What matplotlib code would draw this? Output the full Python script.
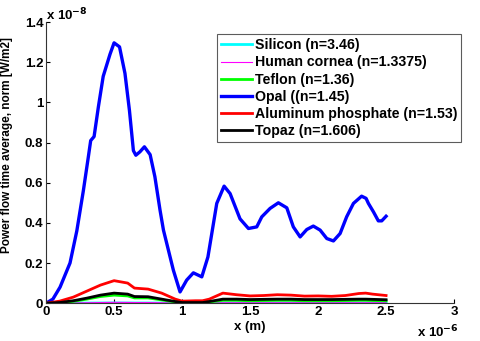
import numpy as np
import matplotlib.pyplot as plt
from matplotlib.ticker import FormatStrFormatter

plt.rcParams['font.family'] = ['Liberation Sans', 'DejaVu Sans']
plt.rcParams['font.weight'] = 'bold'

# --- data (x in units of 1e-6 m, y in units of 1e-8 W/m2) ---
x_opal = [0.0, 0.05, 0.103, 0.176, 0.226, 0.274, 0.311, 0.328, 0.353, 0.385, 0.42, 0.47,
          0.5, 0.54, 0.58, 0.613, 0.642, 0.66, 0.69, 0.723, 0.765, 0.80, 0.838, 0.863,
          0.936, 0.985, 1.034, 1.083, 1.145, 1.19, 1.255, 1.309, 1.353, 1.426, 1.488,
          1.549, 1.586, 1.647, 1.708, 1.77, 1.818, 1.868, 1.917, 1.965, 2.015, 2.064,
          2.113, 2.162, 2.21, 2.26, 2.32, 2.353, 2.37, 2.407, 2.443, 2.468, 2.5]
y_opal = [0.0, 0.02, 0.08, 0.2, 0.36, 0.56, 0.73, 0.81, 0.83, 0.98, 1.13, 1.24,
          1.297, 1.277, 1.145, 0.96, 0.76, 0.737, 0.754, 0.779, 0.74, 0.63, 0.463, 0.364,
          0.164, 0.056, 0.115, 0.151, 0.131, 0.23, 0.497, 0.583, 0.546, 0.42, 0.372,
          0.38, 0.43, 0.472, 0.50, 0.475, 0.38, 0.33, 0.367, 0.384, 0.364, 0.322,
          0.31, 0.347, 0.43, 0.497, 0.533, 0.522, 0.497, 0.455, 0.41, 0.41, 0.433]

x_small = [0.0, 0.1, 0.2, 0.3, 0.4, 0.5, 0.6, 0.65, 0.75, 0.85, 0.95, 1.0, 1.1, 1.15,
           1.2, 1.3, 1.4, 1.5, 1.6, 1.7, 1.8, 1.9, 2.0, 2.1, 2.2, 2.3, 2.35, 2.4, 2.5]
y_alpo4 = [0.0, 0.01, 0.03, 0.06, 0.09, 0.112, 0.1, 0.075, 0.07, 0.05, 0.02, 0.01, 0.012,
           0.012, 0.02, 0.05, 0.042, 0.036, 0.038, 0.042, 0.04, 0.035, 0.036, 0.034,
           0.038, 0.048, 0.05, 0.045, 0.038]
y_topaz = [0.0, 0.003, 0.012, 0.025, 0.04, 0.05, 0.045, 0.033, 0.032, 0.02, 0.008, 0.003,
           0.003, 0.003, 0.008, 0.02, 0.02, 0.018, 0.019, 0.02, 0.02, 0.018, 0.018, 0.018,
           0.019, 0.02, 0.02, 0.019, 0.017]
y_teflon = [0.0, 0.002, 0.009, 0.02, 0.033, 0.04, 0.036, 0.026, 0.026, 0.016, 0.006, 0.002,
            0.002, 0.002, 0.006, 0.014, 0.014, 0.012, 0.013, 0.014, 0.014, 0.012, 0.012,
            0.012, 0.013, 0.014, 0.014, 0.013, 0.012]
y_cornea = [0.0, 0.0005, 0.001, 0.002, 0.003, 0.004, 0.0035, 0.003, 0.003, 0.002, 0.001,
            0.0005, 0.0005, 0.0005, 0.001, 0.002, 0.002, 0.002, 0.002, 0.002, 0.002, 0.002,
            0.002, 0.002, 0.002, 0.002, 0.002, 0.002, 0.002]
y_silicon = [0.0, 0.0002, 0.0004, 0.0006, 0.0008, 0.001, 0.0009, 0.0008, 0.0008, 0.0005,
             0.0002, 0.0001, 0.0001, 0.0001, 0.0002, 0.0005, 0.0005, 0.0005, 0.0005,
             0.0005, 0.0005, 0.0005, 0.0005, 0.0005, 0.0005, 0.0005, 0.0005, 0.0005, 0.0005]

labels = ['Silicon (n=3.46)', 'Human cornea (n=1.3375)', 'Teflon (n=1.36)',
          'Opal ((n=1.45)', 'Aluminum phosphate (n=1.53)', 'Topaz (n=1.606)']

fig = plt.figure(figsize=(4.8, 3.41), dpi=100)
ax = fig.add_axes([0.096, 0.111, 0.85, 0.824])

ax.plot(x_small, y_silicon, color='#00ffff', lw=2.0, label=labels[0])
ax.plot(x_small, y_cornea, color='#ff00ff', lw=0.8, label=labels[1])
ax.plot(x_small, y_teflon, color='#00ff00', lw=2.0, label=labels[2])
ax.plot(x_opal, y_opal, color='#0000ff', lw=2.4, label=labels[3])
ax.plot(x_small, y_alpo4, color='#ff0000', lw=2.0, label=labels[4])
ax.plot(x_small, y_topaz, color='#000000', lw=2.0, label=labels[5])

ax.set_xlim(0, 3)
ax.set_ylim(0, 1.4)
ax.set_xticks([0, 0.5, 1, 1.5, 2, 2.5, 3])
ax.set_yticks([0, 0.2, 0.4, 0.6, 0.8, 1.0, 1.2, 1.4])
ax.xaxis.set_major_formatter(FormatStrFormatter('%g'))
ax.yaxis.set_major_formatter(FormatStrFormatter('%g'))
ax.tick_params(direction='in', length=3, labelsize=9.5, width=0.8, pad=2)
for lab in ax.get_xticklabels() + ax.get_yticklabels():
    lab.set_fontweight('bold')
for s in ['top', 'right']:
    ax.spines[s].set_visible(False)
for s in ['left', 'bottom']:
    ax.spines[s].set_linewidth(0.8)
    ax.spines[s].set_color('#333333')

ax.set_xlabel('x (m)', fontsize=9.5, fontweight='bold', labelpad=2)
ax.set_ylabel('Power flow time average, norm [W/m2]', fontsize=8.5, fontweight='bold')
ax.yaxis.set_label_coords(-0.081, 0.562)

fig.text(0.096, 0.94, r'x 10$^{\mathbf{-8}}$', fontsize=9.5, fontweight='bold',
         va='baseline', ha='left')
fig.text(0.869, 0.012, r'x 10$^{\mathbf{-6}}$', fontsize=9.5, fontweight='bold',
         va='baseline', ha='left')

leg = fig.legend(loc='upper left', bbox_to_anchor=(0.452, 0.9), fontsize=10.2,
                 frameon=True, fancybox=False, handlelength=2.2, borderpad=0.3,
                 labelspacing=0.22, handletextpad=0.15, borderaxespad=0)
leg.get_frame().set_edgecolor('#333333')
leg.get_frame().set_linewidth(0.8)
for t in leg.get_texts():
    t.set_fontweight('bold')

fig.savefig('out.png', dpi=100)
